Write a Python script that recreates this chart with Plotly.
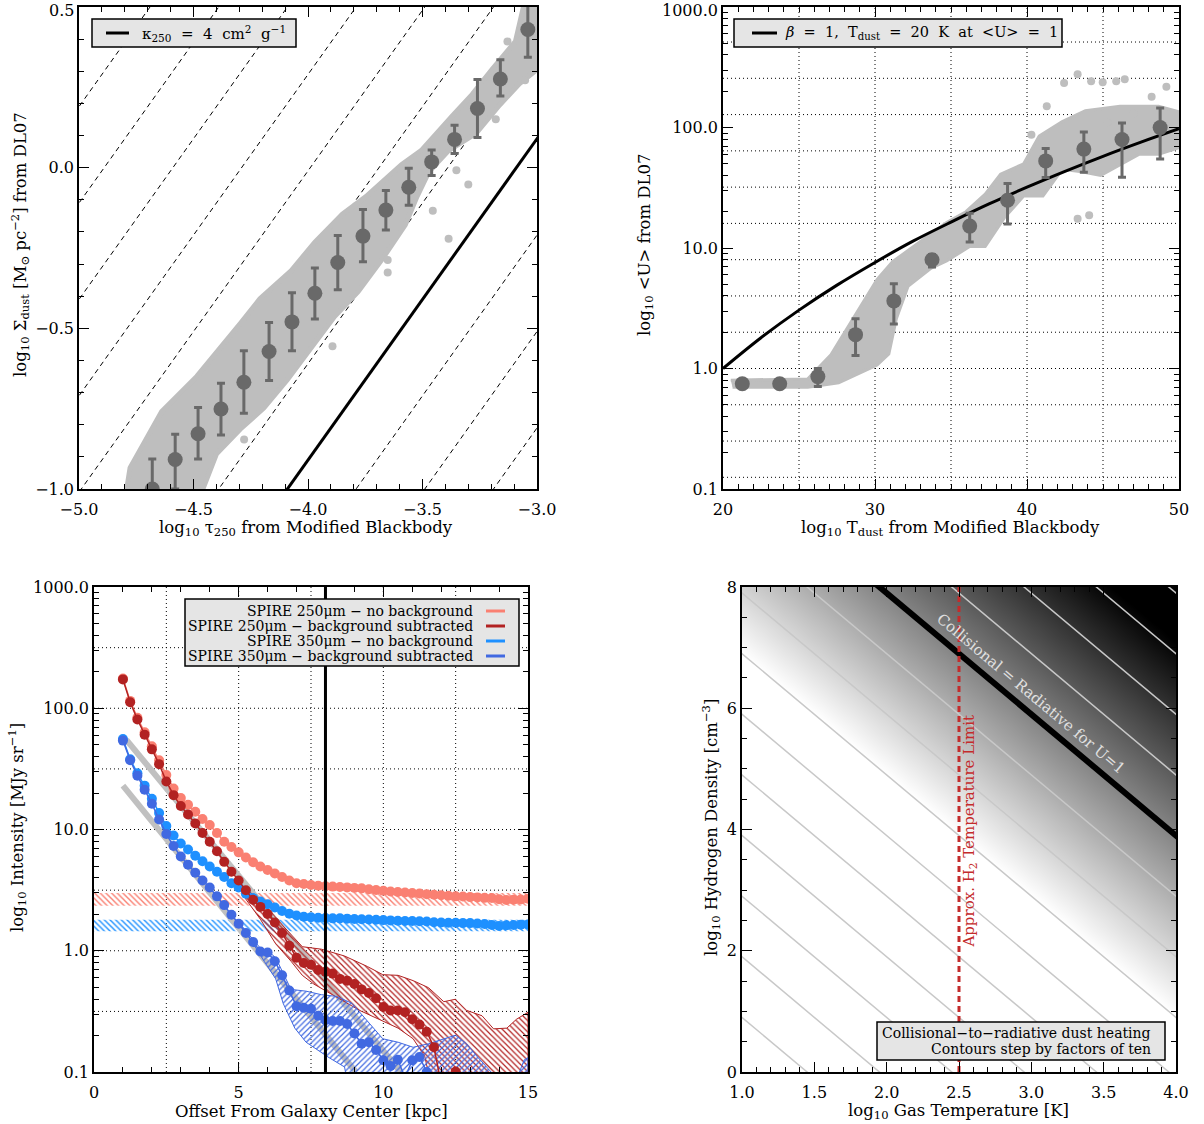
import plotly.graph_objects as go

FONT = "DejaVu Serif"
W, H = 1204, 1124

# ======================= DATA =======================
# ---- Top-left: DL07 dust surface density vs tau_250 ----
TL_KAPPA4_OFFSET = 3.09            # log Sigma - log tau for kappa_250 = 4 cm^2/g
TL_DASHED_OFFSETS = [2.19, 2.49, 2.79, 3.39, 3.69, 3.99, 4.29, 4.59, 4.89, 5.19]
TL_CLOUD_X = [-4.803, -4.777, -4.639, -4.485, -4.296, -4.210, -4.073, -3.970, -3.850, -3.747,
              -3.592, -3.506, -3.369, -3.283, -3.197, -3.094, -3.043, -3.000,
              -3.000, -3.077, -3.163, -3.266, -3.386, -3.472, -3.524, -3.575, -3.678, -3.781,
              -3.884, -3.987, -4.090, -4.193, -4.296, -4.399, -4.459, -4.470]
TL_CLOUD_Y = [-1.05, -0.934, -0.759, -0.649, -0.485, -0.408, -0.320, -0.232, -0.145, -0.090,
              0.009, 0.053, 0.162, 0.228, 0.305, 0.393, 0.55, 0.55,
              0.305, 0.261, 0.195, 0.107, 0.053, -0.013, -0.090, -0.178, -0.287, -0.386,
              -0.463, -0.561, -0.660, -0.748, -0.814, -0.890, -1.00, -1.05]
TL_OUT_X = [-3.300, -3.352, -3.455, -3.386, -3.652, -3.652, -3.893, -4.279, -3.180, -3.052, -3.009, -3.129]
TL_OUT_Y = [-0.052, -0.008, -0.134, -0.221, -0.287, -0.326, -0.556, -0.846, 0.151, 0.272, 0.316, 0.393]
TL_BIN_X = [-4.68, -4.58, -4.48, -4.38, -4.28, -4.17, -4.07, -3.97, -3.87, -3.76, -3.66, -3.56,
            -3.46, -3.36, -3.26, -3.16, -3.04]
TL_BIN_Y = [-1.000, -0.908, -0.828, -0.751, -0.668, -0.572, -0.480, -0.391, -0.295, -0.213,
            -0.132, -0.061, 0.018, 0.088, 0.184, 0.276, 0.430]
TL_BIN_HI = [-0.907, -0.830, -0.746, -0.671, -0.570, -0.482, -0.389, -0.312, -0.211, -0.130,
             -0.071, -0.002, 0.055, 0.132, 0.274, 0.336, 0.515]
TL_BIN_LO = [-1.093, -1.000, -0.907, -0.832, -0.764, -0.662, -0.570, -0.471, -0.380, -0.293,
             -0.194, -0.117, -0.024, 0.044, 0.094, 0.223, 0.344]
TL_Y_TICKS = [-1, -0.5, 0, 0.5]
TL_Y_LABELS = ['−1.0', '−0.5', '0.0', '0.5']

# ---- Top-right: <U> vs T_dust ----
TR_CLOUD_T = [20.51, 22.54, 25.58, 27.10, 28.12, 29.13, 30.14, 31.16, 32.17, 33.44, 34.71, 35.98,
              37.25, 38.26, 39.78, 40.80, 42.32, 43.84, 46.12, 48.66, 50.0,
              50.0, 48.66, 47.39, 46.12, 44.85, 43.59, 42.32, 41.05, 39.78, 38.51, 37.25, 36.23,
              34.71, 33.70, 32.17, 31.41, 30.91, 30.14, 29.13, 27.61, 25.58, 22.54, 20.63]
TR_CLOUD_U = [0.80, 0.81, 0.82, 1.30, 2.10, 3.40, 5.50, 7.70, 9.50, 12.5, 16.3, 20.0,
              28.0, 41.0, 50.0, 85.0, 112, 138, 150, 150, 135,
              68.0, 60.0, 60.0, 49.0, 40.0, 43.0, 45.0, 27.0, 27.0, 17.8, 10.3, 10.3,
              7.8, 6.8, 4.8, 2.6, 1.32, 1.07, 0.93, 0.76, 0.70, 0.70, 0.70]
TR_OUT_T = [43.33, 42.44, 44.22, 44.98, 45.87, 46.43, 49.17, 43.33, 44.09, 41.3, 40.29, 48.2, 47.0, 45.3]
TR_OUT_U = [277, 234, 242, 237, 242, 252, 218, 17.5, 18.7, 150, 87, 180, 130, 110]
TR_BIN_T = [21.27, 23.73, 26.24, 28.72, 31.24, 33.75, 36.23, 38.72, 41.23, 43.74, 46.25, 48.76]
TR_BIN_U = [0.748, 0.748, 0.857, 1.91, 3.64, 7.98, 15.2, 24.9, 52.8, 66.2, 79.6, 99.8]
TR_BIN_HI = [0.748, 0.748, 1.00, 2.59, 5.06, 8.85, 19.4, 34.3, 67.1, 91.8, 109, 145]
TR_BIN_LO = [0.748, 0.748, 0.708, 1.28, 2.34, 6.97, 11.2, 15.8, 38.4, 42.5, 38.6, 54.7]
TR_MODEL_T = [20, 22.5, 25, 27.5, 30, 32.5, 35, 37.5, 40, 42.5, 45, 47.5, 50]
TR_MODEL_U = [1.0, 1.80, 3.05, 4.92, 7.59, 11.4, 16.4, 23.2, 32.0, 43.3, 57.7, 75.6, 97.7]
TR_GRID_T = [25, 30, 35, 40, 45]
TR_GRID_U = [0.125, 0.25, 0.5, 1, 2, 4, 8, 16, 32, 64, 128, 256, 512]
LOG_TICKS = [0.1, 1, 10, 100, 1000]
LOG_LABELS = ['0.1', '1.0', '10.0', '100.0', '1000.0']

# ---- Bottom-left: radial profiles ----
R_KPC = [1.0, 1.25, 1.5, 1.75, 2.0, 2.25, 2.5, 2.75, 3.0, 3.25, 3.5, 3.75, 4.0, 4.25, 4.5, 4.75,
         5.0, 5.25, 5.5, 5.75, 6.0, 6.25, 6.5, 6.75, 7.0, 7.25, 7.5, 7.75, 8.0, 8.25, 8.5, 8.75,
         9.0, 9.25, 9.5, 9.75, 10.0, 10.25, 10.5, 10.75, 11.0, 11.25, 11.5, 11.75, 12.0, 12.25,
         12.5, 12.75, 13.0, 13.25, 13.5, 13.75, 14.0, 14.25, 14.5, 14.75, 15.0]
S250_RAW = [176, 115, 83.5, 63.3, 48.5, 37.3, 28.1, 21.8, 18.2, 16.0, 14.0, 12.2, 10.9, 9.36,
            7.92, 7.17, 6.48, 5.87, 5.37, 4.96, 4.64, 4.34, 4.06, 3.80, 3.60, 3.55, 3.49, 3.44,
            3.40, 3.38, 3.36, 3.33, 3.30, 3.27, 3.22, 3.17, 3.12, 3.08, 3.05, 3.02, 2.99, 2.97,
            2.93, 2.90, 2.87, 2.84, 2.81, 2.80, 2.77, 2.75, 2.73, 2.72, 2.66, 2.62, 2.64, 2.65, 2.69]
S250_SUB = [173, 112, 80.7, 60.6, 45.8, 34.6, 24.9, 19.2, 15.6, 13.3, 11.2, 9.35, 7.92, 6.61,
            5.41, 4.49, 3.80, 3.15, 2.63, 2.30, 2.01, 1.71, 1.40, 1.10, 0.875, 0.792, 0.766,
            0.693, 0.670, 0.648, 0.586, 0.567, 0.531, 0.480, 0.449, 0.406, 0.344, 0.322, 0.322,
            0.311, 0.272, 0.246, 0.215, 0.160, 0.08, 0.07, 0.101, 0.06,
            None, None, None, None, None, None, None, None, None]
S350_RAW = [55.7, 38.0, 29.1, 23.0, 17.9, 13.7, 10.7, 8.93, 7.66, 6.84, 6.07, 5.48, 4.96, 4.49,
            4.06, 3.60, 3.32, 2.95, 2.72, 2.55, 2.42, 2.27, 2.13, 2.02, 1.95, 1.91, 1.89, 1.87,
            1.86, 1.85, 1.85, 1.84, 1.83, 1.82, 1.81, 1.80, 1.79, 1.78, 1.77, 1.76, 1.76, 1.75,
            1.74, 1.72, 1.71, 1.70, 1.70, 1.69, 1.69, 1.68, 1.66, 1.63, 1.60, 1.62, 1.63, 1.64, 1.65]
S350_SUB = [54.1, 37.2, 27.8, 21.3, 16.3, 12.1, 9.17, 7.31, 5.98, 5.13, 4.40, 3.80, 3.32, 2.81,
            2.38, 1.98, 1.67, 1.40, 1.18, 0.986, 0.968, 0.819, 0.627, 0.470, 0.348, 0.339, 0.332,
            0.291, 0.267, 0.263, 0.263, 0.249, 0.208, 0.171, 0.176, 0.152, 0.125, 0.112, 0.126,
            0.09, 0.125, 0.133, 0.10, 0.07,
            None, None, None, None, None, None, None, None, None, None, None, None, None]
BKG250_RANGE = [2.35, 3.0]
BKG350_RANGE = [1.45, 1.8]
ERR250_X = [5.22, 6.01, 6.54, 7.20, 7.86, 8.66, 9.45, 9.98, 10.51, 11.03, 11.56, 12.09, 12.49,
            12.88, 13.41, 13.81, 14.27, 14.60, 15.0,
            15.0, 11.83, 11.43, 11.03, 10.51, 9.85, 9.18, 8.66, 8.13, 7.60, 7.20, 6.81, 6.28, 5.75, 5.22]
ERR250_Y = [3.33, 2.23, 1.60, 1.08, 1.03, 0.905, 0.741, 0.635, 0.627, 0.567, 0.496, 0.380, 0.398,
            0.322, 0.291, 0.227, 0.230, 0.272, 0.311,
            0.05, 0.05, 0.135, 0.188, 0.230, 0.272, 0.322, 0.380, 0.449, 0.531, 0.627, 0.819, 1.14, 1.82, 2.72]
ERR350_X = [4.96, 5.75, 6.01, 6.28, 6.81, 7.33, 7.86, 8.39, 8.92, 9.45, 9.98, 10.51, 11.03, 11.56,
            12.49, 12.88, 13.28, 13.81, 14.67, 14.87, 15.0,
            15.0, 8.92, 8.66, 8.13, 7.33, 6.94, 6.54, 6.28, 5.88, 5.35, 4.96]
ERR350_Y = [1.76, 1.05, 1.0, 0.875, 0.480, 0.464, 0.434, 0.420, 0.368, 0.263, 0.188, 0.176, 0.160,
            0.171, 0.201, 0.171, 0.131, 0.095, 0.095, 0.126, 0.131,
            0.05, 0.05, 0.110, 0.131, 0.176, 0.230, 0.367, 0.586, 0.819, 1.31, 1.76]
FIT_A_X = [1.12, 10.6]
FIT_A_Y = [54.8, 0.1]
FIT_B_X = [1.0, 9.05]
FIT_B_Y = [23.0, 0.1]
SUN_R_KPC = 8.0
BL_GRID_X = [2.5, 5, 7.5, 10, 12.5]
BL_GRID_Y = [0.316, 1, 3.16, 10, 31.6, 100, 316]

# ---- Bottom-right: collisional vs radiative heating ----
BR_U1_LEVEL = 11.9      # log n + 2 log T where collisional = radiative (U=1)
BR_T_SLOPE = 2.0
BR_CONTOURS = [-9, -8, -7, -6, -5, -4, -3, -2, -1, 1, 2, 3, 4]
BR_WHITE_LEVEL = -3.0
BR_BLACK_LEVEL = 3.2
H2_LIMIT_LOGT = 2.5

# ======================= LAYOUT HELPERS =======================
BOX = {1: (79, 7, 537, 489), 2: (723, 7, 1179, 489), 3: (94, 587, 528, 1072), 4: (742, 587, 1176, 1072)}


def dom(b):
    l, t, r, bo = b
    return [l / W, r / W], [1 - bo / H, 1 - t / H]


def px(x):
    return x / W


def py(y):
    return 1 - y / H


fig = go.Figure(layout=dict(template='none'))

GRAY = '#BEBEBE'
DGRAY = '#696969'

# ---------------- Top-left ----------------
for c in TL_DASHED_OFFSETS:
    fig.add_trace(go.Scatter(x=[-5.5, -2.5], y=[-5.5 + c, -2.5 + c], mode='lines',
                             line=dict(color='black', width=1, dash='5px,4px'),
                             xaxis='x', yaxis='y', hoverinfo='skip'))
fig.add_trace(go.Scatter(x=TL_CLOUD_X, y=TL_CLOUD_Y, fill='toself', fillcolor=GRAY, mode='lines',
                         line=dict(color=GRAY, width=5), xaxis='x', yaxis='y'))
fig.add_trace(go.Scatter(x=TL_OUT_X, y=TL_OUT_Y, mode='markers', marker=dict(size=8, color=GRAY),
                         xaxis='x', yaxis='y'))
fig.add_trace(go.Scatter(x=[-5.5, -2.5], y=[-5.5 + TL_KAPPA4_OFFSET, -2.5 + TL_KAPPA4_OFFSET],
                         mode='lines', line=dict(color='black', width=3), xaxis='x', yaxis='y'))
fig.add_trace(go.Scatter(
    x=TL_BIN_X, y=TL_BIN_Y, mode='markers', marker=dict(size=15, color=DGRAY),
    error_y=dict(type='data', symmetric=False,
                 array=[h - y for h, y in zip(TL_BIN_HI, TL_BIN_Y)],
                 arrayminus=[y - l for l, y in zip(TL_BIN_LO, TL_BIN_Y)],
                 color=DGRAY, thickness=3, width=4),
    xaxis='x', yaxis='y'))

# ---------------- Top-right ----------------
fig.add_trace(go.Scatter(x=TR_CLOUD_T, y=TR_CLOUD_U, fill='toself', fillcolor=GRAY, mode='lines',
                         line=dict(color=GRAY, width=3), xaxis='x2', yaxis='y2'))
fig.add_trace(go.Scatter(x=TR_OUT_T, y=TR_OUT_U, mode='markers', marker=dict(size=8, color=GRAY),
                         xaxis='x2', yaxis='y2'))
fig.add_trace(go.Scatter(x=TR_MODEL_T, y=TR_MODEL_U, mode='lines', line=dict(color='black', width=3, shape='spline'),
                         xaxis='x2', yaxis='y2'))
fig.add_trace(go.Scatter(
    x=TR_BIN_T, y=TR_BIN_U, mode='markers', marker=dict(size=15, color=DGRAY),
    error_y=dict(type='data', symmetric=False,
                 array=[h - y for h, y in zip(TR_BIN_HI, TR_BIN_U)],
                 arrayminus=[y - l for l, y in zip(TR_BIN_LO, TR_BIN_U)],
                 color=DGRAY, thickness=3, width=4),
    xaxis='x2', yaxis='y2'))

# ---------------- Bottom-left ----------------
SALMON, FIRE, DODGER, ROYAL = '#FA8072', '#B22222', '#1E90FF', '#4169E1'
for rng, col in [(BKG250_RANGE, SALMON), (BKG350_RANGE, DODGER)]:
    fig.add_trace(go.Scatter(x=[0, 15, 15, 0, 0], y=[rng[0], rng[0], rng[1], rng[1], rng[0]],
                             fill='toself', mode='lines', line=dict(width=0, color=col),
                             fillcolor='rgba(0,0,0,0)',
                             fillpattern=dict(shape='\\', fgcolor=col, bgcolor='rgba(0,0,0,0)', size=4, solidity=0.35),
                             xaxis='x3', yaxis='y3'))
fig.add_trace(go.Scatter(x=FIT_A_X, y=FIT_A_Y, mode='lines', line=dict(color='#C0C0C0', width=6),
                         xaxis='x3', yaxis='y3'))
fig.add_trace(go.Scatter(x=FIT_B_X, y=FIT_B_Y, mode='lines', line=dict(color='#C0C0C0', width=6),
                         xaxis='x3', yaxis='y3'))
fig.add_trace(go.Scatter(x=ERR250_X, y=ERR250_Y, fill='toself', mode='lines', line=dict(width=1, color=FIRE),
                         fillcolor='rgba(0,0,0,0)',
                         fillpattern=dict(shape='\\', fgcolor=FIRE, bgcolor='rgba(0,0,0,0)', size=4, solidity=0.3),
                         xaxis='x3', yaxis='y3'))
fig.add_trace(go.Scatter(x=ERR350_X, y=ERR350_Y, fill='toself', mode='lines', line=dict(width=1, color=ROYAL),
                         fillcolor='rgba(0,0,0,0)',
                         fillpattern=dict(shape='/', fgcolor=ROYAL, bgcolor='rgba(0,0,0,0)', size=4, solidity=0.3),
                         xaxis='x3', yaxis='y3'))
for ys, col in [(S350_RAW, DODGER), (S250_RAW, SALMON), (S350_SUB, ROYAL), (S250_SUB, FIRE)]:
    fig.add_trace(go.Scatter(x=R_KPC, y=ys, mode='lines+markers', line=dict(color=col, width=1.5),
                             marker=dict(size=10, color=col), connectgaps=False,
                             xaxis='x3', yaxis='y3'))
fig.add_trace(go.Scatter(x=[SUN_R_KPC, SUN_R_KPC], y=[0.1, 1000], mode='lines',
                         line=dict(color='black', width=3), xaxis='x3', yaxis='y3'))

# ---------------- Bottom-right ----------------
NX, NY = 61, 81
gx = [1.0 + 3.0 * i / (NX - 1) for i in range(NX)]
gy = [8.0 * j / (NY - 1) for j in range(NY)]
gz = [[yy + BR_T_SLOPE * xx - BR_U1_LEVEL for xx in gx] for yy in gy]
fig.add_trace(go.Heatmap(x=gx, y=gy, z=gz, zsmooth='best', zmin=BR_WHITE_LEVEL, zmax=BR_BLACK_LEVEL,
                         colorscale=[[0, '#ffffff'], [1, '#000000']], showscale=False,
                         xaxis='x4', yaxis='y4', hoverinfo='skip'))
for lev in BR_CONTOURS:
    c = BR_U1_LEVEL + lev
    fig.add_trace(go.Scatter(x=[0.5, 4.5], y=[c - BR_T_SLOPE * 0.5, c - BR_T_SLOPE * 4.5], mode='lines',
                             line=dict(color='#C8C8C8', width=1.5), xaxis='x4', yaxis='y4'))
fig.add_trace(go.Scatter(x=[0.5, 4.5], y=[BR_U1_LEVEL - BR_T_SLOPE * 0.5, BR_U1_LEVEL - BR_T_SLOPE * 4.5],
                         mode='lines', line=dict(color='black', width=6), xaxis='x4', yaxis='y4'))
fig.add_trace(go.Scatter(x=[H2_LIMIT_LOGT, H2_LIMIT_LOGT], y=[0, 8], mode='lines',
                         line=dict(color='#C42B2B', width=3, dash='6px,4px'), xaxis='x4', yaxis='y4'))

# ======================= AXES =======================
TICKFONT = dict(family=FONT, size=16, color='black')


def axis(b, kind, **kw):
    d = dict(showline=True, linecolor='black', linewidth=1.6, mirror='allticks', ticks='inside',
             ticklen=10, tickwidth=1.3, tickcolor='black', showgrid=False, zeroline=False,
             tickfont=TICKFONT, fixedrange=True, automargin=False, ticklabeloverflow='allow')
    xd, yd = dom(b)
    if kind == 'x':
        d['domain'] = xd
        d['ticklabelstandoff'] = 5
    else:
        d['domain'] = yd
    d.update(kw)
    return d


def logminor(lo, hi):
    vals = []
    for e in range(lo, hi):
        for m in range(2, 10):
            vals.append(m * 10 ** e)
    return vals


MINOR = dict(ticks='inside', ticklen=5, tickwidth=1, tickcolor='black', showgrid=False)

# top-most labels of the top panels are written as annotations (nudged down so they stay on the page)
layout = dict(
    width=W, height=H, margin=dict(l=0, r=0, t=0, b=0, pad=0, autoexpand=False), showlegend=False,
    paper_bgcolor='white', plot_bgcolor='white', font=dict(family=FONT, color='black'),
    xaxis=axis(BOX[1], 'x', range=[-5, -3], tickvals=[-5, -4.5, -4, -3.5, -3],
               ticktext=['−5.0', '−4.5', '−4.0', '−3.5', '−3.0'], anchor='y',
               minor=dict(MINOR, dtick=0.1, tick0=-5)),
    yaxis=axis(BOX[1], 'y', range=[-1, 0.5], tickvals=TL_Y_TICKS[:-1],
               ticktext=TL_Y_LABELS[:-1], anchor='x',
               minor=dict(MINOR, dtick=0.1, tick0=-1)),
    xaxis2=axis(BOX[2], 'x', range=[20, 50], tickvals=[20, 30, 40, 50], anchor='y2',
                minor=dict(MINOR, dtick=1, tick0=20)),
    yaxis2=axis(BOX[2], 'y', type='log', range=[-1, 3], tickvals=LOG_TICKS[:-1],
                ticktext=LOG_LABELS[:-1], anchor='x2',
                minor=dict(MINOR, tickvals=logminor(-1, 3))),
    xaxis3=axis(BOX[3], 'x', range=[0, 15], tickvals=[0, 5, 10, 15], anchor='y3',
                minor=dict(MINOR, dtick=1, tick0=0)),
    yaxis3=axis(BOX[3], 'y', type='log', range=[-1, 3], tickvals=LOG_TICKS,
                ticktext=LOG_LABELS, anchor='x3',
                minor=dict(MINOR, tickvals=logminor(-1, 3))),
    xaxis4=axis(BOX[4], 'x', range=[1, 4], tickvals=[1, 1.5, 2, 2.5, 3, 3.5, 4],
                ticktext=['1.0', '1.5', '2.0', '2.5', '3.0', '3.5', '4.0'], anchor='y4',
                minor=dict(MINOR, dtick=0.1, tick0=1)),
    yaxis4=axis(BOX[4], 'y', range=[0, 8], tickvals=[0, 2, 4, 6, 8], anchor='x4',
                minor=dict(MINOR, dtick=0.5, tick0=0)),
)
fig.update_layout(**layout)

# ======================= GRIDS (dotted) =======================
shapes = []
DOT = dict(color='black', width=1, dash='1px,3px')
for t in TR_GRID_T:
    shapes.append(dict(type='line', xref='x2', yref='y2 domain', x0=t, x1=t, y0=0, y1=1, line=DOT, layer='below'))
for u in TR_GRID_U:
    shapes.append(dict(type='line', xref='x2 domain', yref='y2', x0=0, x1=1, y0=u, y1=u,
                       line=DOT, layer='below'))
for r in BL_GRID_X:
    shapes.append(dict(type='line', xref='x3', yref='y3 domain', x0=r, x1=r, y0=0, y1=1, line=DOT, layer='below'))
for v in BL_GRID_Y:
    shapes.append(dict(type='line', xref='x3 domain', yref='y3', x0=0, x1=1, y0=v, y1=v,
                       line=DOT, layer='below'))

# ======================= LEGEND BOXES =======================
BOXFILL = '#E5E5E5'


def rect(x0, y0, x1, y1):
    return dict(type='rect', xref='paper', yref='paper', x0=px(x0), x1=px(x1), y0=py(y1), y1=py(y0),
                fillcolor=BOXFILL, line=dict(color='black', width=1.5), layer='above')


def seg(x0, x1, y, col, w=3):
    return dict(type='line', xref='paper', yref='paper', x0=px(x0), x1=px(x1), y0=py(y), y1=py(y),
                line=dict(color=col, width=w), layer='above')


shapes += [rect(92, 19, 296, 47), seg(106, 129, 33, 'black'),
           rect(734, 19, 1062, 47), seg(752, 777, 33, 'black'),
           rect(185, 599, 519, 666),
           seg(486, 505, 611, SALMON), seg(486, 505, 626, FIRE), seg(486, 505, 641, DODGER), seg(486, 505, 656, ROYAL),
           rect(877, 1022, 1165, 1060)]
fig.update_layout(shapes=shapes)

ann = []


def text(x, y, s, size=16, xanchor='center', angle=0, color='black', ref='paper'):
    ann.append(dict(x=x, y=y, xref=ref if ref == 'paper' else ref[0], yref=ref if ref == 'paper' else ref[1],
                    text=s, showarrow=False, xanchor=xanchor, yanchor='middle', textangle=angle,
                    font=dict(family=FONT, size=size, color=color)))


# top tick labels of the upper panels
text(px(76), py(10), TL_Y_LABELS[-1], 16, 'right')
text(px(720), py(10), LOG_LABELS[-1], 16, 'right')

# legend texts
text(px(140), py(33), 'κ<sub>250</sub>  =  4  cm<sup>2</sup>  g<sup>−1</sup>', 15, 'left')
text(px(783), py(33), '<i>β</i>  =  1,  T<sub>dust</sub>  =  20  K  at  &lt;U&gt;  =  1', 14.5, 'left')
text(px(475), py(611), 'SPIRE 250μm − no background', 14, 'right')
text(px(475), py(626), 'SPIRE 250μm − background subtracted', 14, 'right')
text(px(475), py(641), 'SPIRE 350μm − no background', 14, 'right')
text(px(475), py(656), 'SPIRE 350μm − background subtracted', 14, 'right')
text(px(1153), py(1033), 'Collisional−to−radiative dust heating', 14, 'right')
text(px(1153), py(1049), 'Contours step by factors of ten', 14, 'right')

# axis titles
text(px(306), py(528), 'log<sub>10</sub> τ<sub>250</sub> from Modified Blackbody', 16.5)
text(px(20), py(245), 'log<sub>10</sub> Σ<sub>dust</sub> [M<sub>⊙</sub> pc<sup>−2</sup>] from DL07', 16.5, angle=-90)
text(px(950), py(528), 'log<sub>10</sub> T<sub>dust</sub> from Modified Blackbody', 16.5)
text(px(645), py(245), 'log<sub>10</sub> &lt;U&gt; from DL07', 16.5, angle=-90)
text(px(311), py(1111), 'Offset From Galaxy Center [kpc]', 16.5)
text(px(17), py(828), 'log<sub>10</sub> Intensity [MJy sr<sup>−1</sup>]', 16.5, angle=-90)
text(px(958), py(1111), 'log<sub>10</sub> Gas Temperature [K]', 16.5)
text(px(711), py(828), 'log<sub>10</sub> Hydrogen Density [cm<sup>−3</sup>]', 16.5, angle=-90)

# in-panel labels (bottom-right)
text(2.575, 3.98, 'Approx. H<sub>2</sub> Temperature Limit', 15, angle=-90, color='#C42B2B', ref=('x4', 'y4'))
text(3.0, 6.24, 'Collisional = Radiative for U=1', 15, angle=40, color='#E0E0E0', ref=('x4', 'y4'))

fig.update_layout(annotations=ann)
fig.write_html("out.html")
